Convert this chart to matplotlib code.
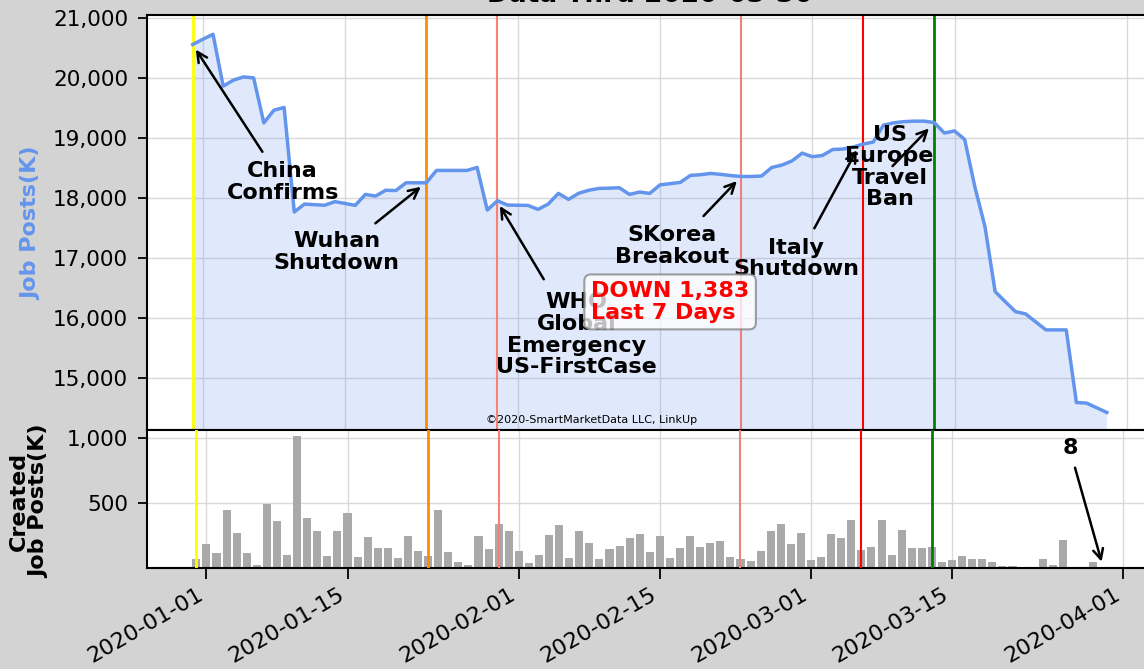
import matplotlib
matplotlib.use("Agg")
import matplotlib.pyplot as plt
import matplotlib.dates as mdates
import matplotlib.ticker as mticker
import pandas as pd

dates = pd.date_range("2019-12-31", "2020-03-30", freq="D")

job_posts = [20562, 20650, 20733, 19867, 19967, 20022, 20005, 19255, 19467, 19511,
             17767, 17900, 17889, 17880, 17940, 17910, 17878, 18061, 18033, 18130,
             18125, 18255, 18255, 18255, 18461, 18461, 18461, 18461, 18511, 17800,
             17955, 17883, 17880, 17878, 17811, 17900, 18078, 17978, 18080, 18130,
             18161, 18165, 18172, 18061, 18100, 18078, 18220, 18240, 18261, 18378,
             18390, 18411, 18395, 18375, 18360, 18360, 18367, 18510, 18550, 18620,
             18750, 18690, 18711, 18810, 18817, 18850, 18900, 18935, 19217, 19255,
             19275, 19283, 19283, 19260, 19085, 19120, 18978, 18189, 17522, 16438,
             16270, 16105, 16067, 15933, 15800, 15800, 15800, 14588, 14578, 14500,
             14422]

created_posts = [69, 185, 113, 446, 267, 113, 23, 490, 364, 97,
                 1015, 382, 285, 92, 285, 420, 87, 241, 154, 154,
                 79, 246, 133, 95, 444, 123, 46, 26, 244, 144,
                 338, 287, 128, 36, 97, 254, 328, 79, 285, 195,
                 72, 146, 172, 233, 259, 126, 246, 79, 154, 246,
                 162, 192, 210, 85, 72, 51, 131, 287, 338, 187,
                 272, 64, 82, 262, 233, 369, 138, 164, 372, 97,
                 292, 154, 154, 162, 46, 62, 92, 67, 72, 44,
                 13, 18, 10, 3, 70, 22, 218, 6, 6, 46,
                 8]

event_dates = ["2019-12-31", "2020-01-23", "2020-01-30", "2020-02-23", "2020-03-06", "2020-03-13"]
event_colors = ["yellow", "darkorange", "salmon", "lightcoral", "red", "green"]
event_widths = [2, 2, 1.5, 1.5, 1.5, 2]

tick_dates = ["2020-01-01", "2020-01-15", "2020-02-01", "2020-02-15", "2020-03-01", "2020-03-15", "2020-04-01"]


def d(day, offset=0.0):
    return mdates.date2num(pd.Timestamp(day)) + offset


def arrow(ax, tail, tip):
    ax.annotate("", xy=tip, xytext=tail,
                arrowprops=dict(arrowstyle="->", color="black", lw=1.8,
                                shrinkA=0, shrinkB=0, mutation_scale=18))


def style_axes(ax):
    ax.set_facecolor("white")
    ax.grid(True, color="#d9d9d9", lw=1)
    ax.set_axisbelow(True)
    for spine in ax.spines.values():
        spine.set_linewidth(1.5)
    ax.tick_params(axis="y", labelsize=15.5, length=6.5, width=1.3, pad=7)
    ax.tick_params(axis="x", labelsize=16, length=6, width=1.3)
    ax.set_xticks([d(t) for t in tick_dates])


fig = plt.figure(figsize=(11.44, 6.69), dpi=100, facecolor="lightgray")
ax1 = fig.add_axes([0.1285, 0.3573, 0.879, 0.6203])
ax2 = fig.add_axes([0.1285, 0.151, 0.879, 0.2063])

# upper panel: total job posts
ax1.plot(dates, job_posts, color="cornflowerblue", lw=2.5, zorder=3)
ax1.fill_between(dates, job_posts, 0, color="cornflowerblue", alpha=0.2, lw=0)
for day, color, lw in zip(event_dates, event_colors, event_widths):
    ax1.axvline(d(day), color=color, lw=lw, zorder=2)
style_axes(ax1)
ax1.set_xlim(d("2019-12-31", -4.5), d("2020-03-30", 4.5))
ax1.set_ylim(14130, 21055)
ax1.set_yticks(range(15000, 21001, 1000))
ax1.yaxis.set_major_formatter(mticker.StrMethodFormatter("{x:,.0f}"))
ax1.tick_params(axis="x", length=0, labelbottom=False)

# lower panel: created posts
ax2.bar(dates, created_posts, width=0.8, color="darkgray", zorder=2)
for day, color, lw in zip(event_dates, event_colors, event_widths):
    ax2.axvline(d(day), color=color, lw=lw, zorder=3)
style_axes(ax2)
ax2.set_xlim(d("2019-12-31", -4.9), d("2020-03-30", 4.9))
ax2.set_ylim(0, 1061)
ax2.set_yticks([500, 1000])
ax2.yaxis.set_major_formatter(mticker.StrMethodFormatter("{x:,.0f}"))
ax2.xaxis.set_major_formatter(mdates.DateFormatter("%Y-%m-%d"))
ax2.tick_params(axis="x", length=8)
for label in ax2.get_xticklabels():
    label.set_rotation(30)
    label.set_horizontalalignment("right")

# event notes
note = dict(fontsize=16, fontweight="bold", ha="center", va="center", linespacing=1.1, zorder=5)
ax1.text(d("2020-01-01", 7.85), 18267, "China\nConfirms", **note)
ax1.text(d("2020-01-01", 13.15), 17100, "Wuhan\nShutdown", **note)
ax1.text(d("2020-01-01", 36.8), 15717, "WHO\nGlobal\nEmergency\nUS-FirstCase", **note)
ax1.text(d("2020-01-01", 46.2), 17200, "SKorea\nBreakout", **note)
ax1.text(d("2020-01-01", 58.4), 16992, "Italy\nShutdown", **note)
ax1.text(d("2020-01-01", 67.6), 18517, "US\nEurope\nTravel\nBan", **note)

arrow(ax1, (d("2020-01-01", 5.86), 18772), (d("2020-01-01", -0.69), 20478))
arrow(ax1, (d("2020-01-01", 16.98), 17578), (d("2020-01-01", 21.46), 18188))
arrow(ax1, (d("2020-01-01", 33.56), 16645), (d("2020-01-01", 29.24), 17867))
arrow(ax1, (d("2020-01-01", 49.29), 17700), (d("2020-01-01", 52.57), 18283))
arrow(ax1, (d("2020-01-01", 60.2), 17495), (d("2020-01-01", 64.38), 18800))
arrow(ax1, (d("2020-01-01", 67.9), 18533), (d("2020-01-01", 71.48), 19162))

ax1.text(d("2020-01-01", 46.0), 16267, "DOWN 1,383\nLast 7 Days", color="red",
         fontsize=16, fontweight="bold", ha="center", va="center", multialignment="left",
         linespacing=1.1, zorder=6,
         bbox=dict(boxstyle="round,pad=0.3", fc="white", ec="gray", lw=1.5, alpha=0.75))
ax1.text(d("2020-01-01", 38.3), 14300, "\u00a92020-SmartMarketData LLC, LinkUp",
         fontsize=8, ha="center", va="center")

ax2.text(d("2020-01-01", 85.74), 923, "8", fontsize=16, fontweight="bold", ha="center", va="center")
arrow(ax2, (d("2020-01-01", 86.2), 771), (d("2020-01-01", 88.84), 48))

fig.text(31 / 1144, 1 - 223 / 669, "Job Posts(K)", rotation=90, color="cornflowerblue",
         fontsize=16, fontweight="bold", ha="center", va="center")
fig.text(29 / 1144, 1 - 501 / 669, "Created\nJob Posts(K)", rotation=90,
         fontsize=16, fontweight="bold", ha="center", va="center", linespacing=1.0)
# title sits mostly above the saved area, as in the source image
fig.text(650 / 1144, 1 - 2.5 / 669, "Data Thru 2020-03-30", fontsize=19, fontweight="bold",
         ha="center", va="baseline")

fig.savefig("out.png", dpi=100, facecolor=fig.get_facecolor())
